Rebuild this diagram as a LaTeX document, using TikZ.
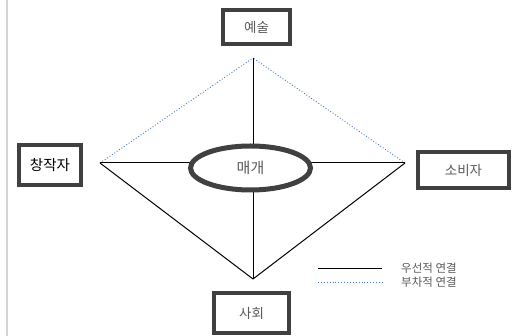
\documentclass[tikz,border=0pt]{standalone}
\usepackage{fontspec}
\usetikzlibrary{shapes.geometric}
\setmainfont{Noto Sans CJK KR}
\begin{document}
\begin{tikzpicture}[x=1pt,y=-1pt,
  boxnode/.style={draw=boxgray,line width=4pt,fill=white,inner sep=0pt,font=\fontsize{13.5}{15}\selectfont,text=txtgray},
  primary/.style={draw=black,line width=1pt},
  secondary/.style={draw=dotblue,line width=0.9pt,dotted}]
\definecolor{boxgray}{HTML}{404040}
\definecolor{txtgray}{HTML}{5A5A5A}
\definecolor{dotblue}{HTML}{4472C4}
\definecolor{edgegray}{HTML}{D4D4D4}
\useasboundingbox (0,0) rectangle (517,336);
\fill[white] (0,0) rectangle (517,336);
\draw[edgegray,line width=2pt] (6.5,0) -- (6.5,336);
% anchor points
\coordinate (top) at (253,58);
\coordinate (lft) at (100,163);
\coordinate (rgt) at (405,163);
\coordinate (bot) at (253,279);
% connectors
\draw[secondary] (lft) -- (top);
\draw[secondary] (rgt) -- (top);
\draw[primary] (lft) -- (bot);
\draw[primary] (rgt) -- (bot);
\draw[primary] (top) -- (bot);
\draw[primary] (lft) -- (rgt);
% center ellipse
\node (med) [draw=boxgray,line width=5pt,fill=white,ellipse,minimum width=120pt,minimum height=44pt,inner sep=0pt,text=txtgray,font=\fontsize{15}{17}\selectfont] at (250.5,168) {매개};
% boxes
\node (art) [boxnode,minimum width=67pt,minimum height=34pt] at (256.5,27) {예술};
\node (cre) [boxnode,minimum width=62pt,minimum height=40pt,text=black,font=\fontsize{14.5}{16}\selectfont] at (50,165) {창작자};
\node (con) [boxnode,minimum width=91pt,minimum height=36pt] at (463.5,170) {소비자};
\node (soc) [boxnode,minimum width=75pt,minimum height=40pt] at (251.5,313) {사회};
% legend
\coordinate (l1a) at (318,269);
\coordinate (l1b) at (382,269);
\coordinate (l2a) at (318,282);
\coordinate (l2b) at (382,282);
\draw[primary] (l1a) -- (l1b);
\draw[secondary,line width=0.8pt] (l2a) -- (l2b);
\node (leg1) [anchor=west,inner sep=0pt,text=txtgray,font=\fontsize{11.5}{12}\selectfont] at (401,268.5) {우선적 연결};
\node (leg2) [anchor=west,inner sep=0pt,text=txtgray,font=\fontsize{11.5}{12}\selectfont] at (401,282.5) {부차적 연결};
\end{tikzpicture}
\end{document}
